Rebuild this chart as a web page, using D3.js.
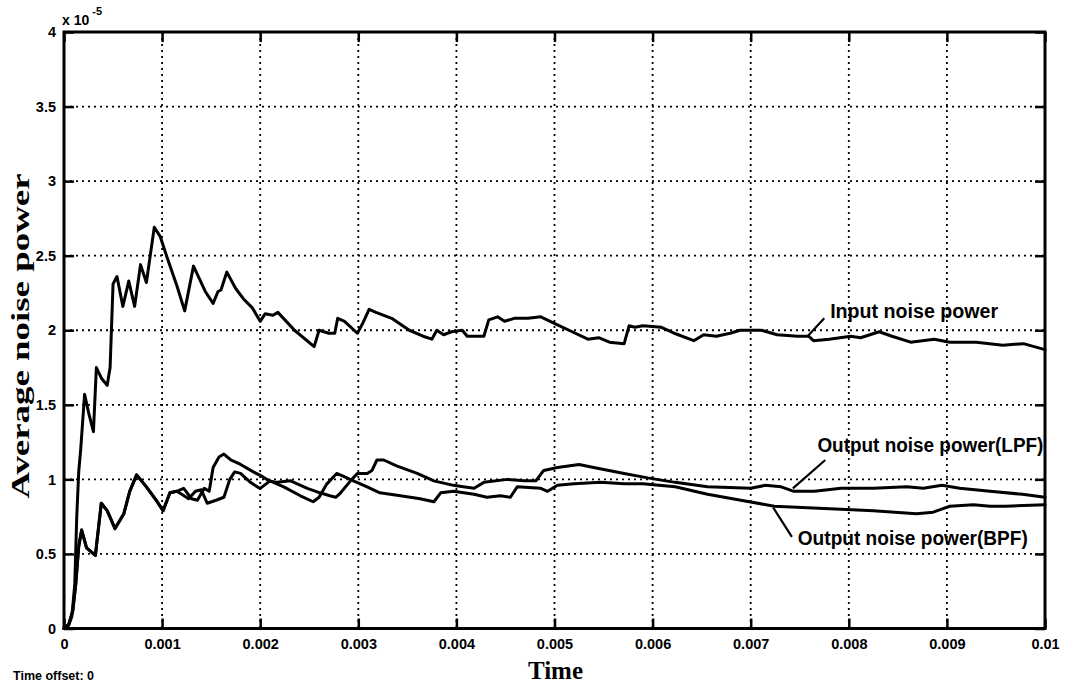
<!DOCTYPE html>
<html>
<head>
<meta charset="utf-8">
<script src="https://cdn.jsdelivr.net/npm/d3@7"></script>
<style>
  body { margin: 0; background: #fff; }
  svg { display: block; }
</style>
</head>
<body>
<svg id="chart" width="1069" height="688"></svg>
<script>
// Time in ms, power in units of 1e-5
const inputT = [0, 0.04, 0.08, 0.11, 0.13, 0.15, 0.17, 0.21, 0.25, 0.30, 0.33, 0.38, 0.44, 0.47, 0.50, 0.54, 0.60, 0.66, 0.72, 0.78, 0.84, 0.92, 0.98, 1.05, 1.15, 1.23, 1.32, 1.44, 1.52, 1.57, 1.60, 1.66, 1.75, 1.83, 1.92, 2.00, 2.05, 2.13, 2.18, 2.35, 2.55, 2.60, 2.70, 2.76, 2.79, 2.86, 2.99, 3.04, 3.11, 3.18, 3.34, 3.52, 3.66, 3.75, 3.80, 3.87, 3.95, 4.06, 4.11, 4.28, 4.33, 4.42, 4.49, 4.59, 4.73, 4.86, 5.02, 5.18, 5.34, 5.45, 5.56, 5.71, 5.76, 5.82, 5.90, 6.09, 6.22, 6.42, 6.52, 6.65, 6.79, 6.89, 7.11, 7.27, 7.48, 7.59, 7.64, 7.80, 8.02, 8.12, 8.31, 8.44, 8.63, 8.87, 9.03, 9.30, 9.57, 9.78, 10.0];
const inputV = [0, 0.01, 0.08, 0.30, 0.75, 1.05, 1.20, 1.57, 1.45, 1.32, 1.75, 1.68, 1.63, 1.75, 2.31, 2.36, 2.16, 2.33, 2.16, 2.44, 2.32, 2.69, 2.63, 2.49, 2.30, 2.13, 2.43, 2.26, 2.18, 2.26, 2.27, 2.39, 2.28, 2.21, 2.15, 2.06, 2.11, 2.10, 2.12, 2.00, 1.89, 2.00, 1.98, 1.98, 2.08, 2.06, 1.98, 2.04, 2.14, 2.12, 2.08, 2.00, 1.96, 1.94, 2.00, 1.97, 1.99, 2.00, 1.96, 1.96, 2.07, 2.09, 2.06, 2.08, 2.08, 2.09, 2.04, 1.99, 1.94, 1.95, 1.92, 1.91, 2.03, 2.02, 2.03, 2.02, 1.98, 1.93, 1.97, 1.96, 1.98, 2.00, 2.00, 1.97, 1.96, 1.96, 1.93, 1.94, 1.96, 1.95, 1.99, 1.96, 1.92, 1.94, 1.92, 1.92, 1.90, 1.91, 1.87];

const lpfT = [0, 0.05, 0.09, 0.12, 0.15, 0.18, 0.23, 0.32, 0.38, 0.44, 0.52, 0.61, 0.67, 0.74, 0.84, 0.95, 1.01, 1.08, 1.15, 1.22, 1.30, 1.36, 1.43, 1.48, 1.52, 1.58, 1.63, 1.70, 1.80, 1.93, 2.02, 2.09, 2.17, 2.31, 2.48, 2.61, 2.71, 2.77, 2.82, 2.92, 2.99, 3.09, 3.14, 3.19, 3.26, 3.39, 3.60, 3.77, 3.97, 4.07, 4.18, 4.28, 4.52, 4.69, 4.81, 4.89, 5.03, 5.25, 5.40, 5.71, 5.95, 6.23, 6.56, 7.00, 7.15, 7.31, 7.44, 7.65, 7.92, 8.25, 8.59, 8.76, 8.95, 9.13, 9.44, 9.77, 10.0];
const lpfV = [0, 0.03, 0.12, 0.30, 0.55, 0.66, 0.54, 0.49, 0.84, 0.79, 0.67, 0.77, 0.92, 1.03, 0.95, 0.85, 0.79, 0.91, 0.92, 0.94, 0.87, 0.86, 0.94, 0.92, 1.08, 1.15, 1.17, 1.13, 1.10, 1.05, 1.02, 0.99, 0.98, 0.99, 0.94, 0.91, 0.89, 0.88, 0.91, 0.99, 1.04, 1.04, 1.06, 1.13, 1.13, 1.09, 1.04, 0.99, 0.96, 0.95, 0.94, 0.98, 1.00, 0.99, 0.99, 1.06, 1.08, 1.10, 1.08, 1.04, 1.01, 0.98, 0.95, 0.94, 0.96, 0.95, 0.92, 0.92, 0.94, 0.94, 0.95, 0.94, 0.96, 0.94, 0.92, 0.90, 0.88];

const bpfT = [0, 0.05, 0.09, 0.12, 0.15, 0.18, 0.23, 0.32, 0.38, 0.44, 0.52, 0.61, 0.67, 0.74, 0.84, 0.95, 1.01, 1.08, 1.15, 1.20, 1.27, 1.34, 1.40, 1.46, 1.55, 1.63, 1.69, 1.74, 1.80, 1.90, 1.97, 2.00, 2.10, 2.24, 2.41, 2.54, 2.60, 2.68, 2.78, 2.85, 2.95, 3.09, 3.22, 3.43, 3.63, 3.77, 3.84, 3.97, 4.18, 4.31, 4.45, 4.55, 4.62, 4.86, 4.93, 5.03, 5.20, 5.47, 5.71, 5.90, 6.23, 6.56, 6.90, 7.24, 7.58, 7.92, 8.25, 8.69, 8.86, 9.03, 9.27, 9.44, 9.60, 10.0];
const bpfV = [0, 0.03, 0.12, 0.30, 0.55, 0.66, 0.54, 0.49, 0.84, 0.79, 0.67, 0.77, 0.92, 1.03, 0.95, 0.85, 0.79, 0.91, 0.92, 0.90, 0.87, 0.92, 0.93, 0.84, 0.86, 0.88, 1.00, 1.05, 1.04, 0.98, 0.95, 0.94, 0.99, 0.95, 0.89, 0.85, 0.88, 0.97, 1.04, 1.02, 0.99, 0.95, 0.91, 0.89, 0.87, 0.85, 0.91, 0.92, 0.90, 0.88, 0.89, 0.88, 0.95, 0.94, 0.92, 0.96, 0.97, 0.98, 0.97, 0.97, 0.95, 0.90, 0.86, 0.82, 0.81, 0.80, 0.79, 0.77, 0.78, 0.82, 0.83, 0.82, 0.82, 0.83];

const xTicks = [0, 1, 2, 3, 4, 5, 6, 7, 8, 9, 10];
const xTickLabels = ["0", "0.001", "0.002", "0.003", "0.004", "0.005", "0.006", "0.007", "0.008", "0.009", "0.01"];
const yTicks = [0, 0.5, 1, 1.5, 2, 2.5, 3, 3.5, 4];
const yTickLabels = ["0", "0.5", "1", "1.5", "2", "2.5", "3", "3.5", "4"];

const seriesNames = ["Input noise power", "Output noise power(LPF)", "Output noise power(BPF)"];

const svg = d3.select("#chart");
const plotLeft = 64, plotRight = 1045, plotTop = 32, plotBottom = 628.5;

const x = d3.scaleLinear().domain([0, 10]).range([plotLeft, plotRight]);
const y = d3.scaleLinear().domain([0, 4]).range([plotBottom, plotTop]);

const sansBold = "'Liberation Sans', Arial, sans-serif";
const serifBold = "'Liberation Serif', 'Times New Roman', serif";

// Dotted grid
const grid = svg.append("g").attr("stroke", "#000").attr("stroke-width", 1.8)
  .attr("stroke-dasharray", "2,4");
grid.selectAll("line.v").data(xTicks.slice(1, -1)).join("line").attr("class", "v")
  .attr("x1", d => x(d)).attr("x2", d => x(d)).attr("y1", plotTop).attr("y2", plotBottom);
grid.selectAll("line.h").data(yTicks.slice(1, -1)).join("line").attr("class", "h")
  .attr("x1", plotLeft).attr("x2", plotRight).attr("y1", d => y(d)).attr("y2", d => y(d));

// Axes with inward ticks
const fmtX = (d, i) => xTickLabels[i];
const fmtY = (d, i) => yTickLabels[i];
function styleAxis(g) {
  g.select(".domain").remove();
  g.selectAll(".tick line").attr("stroke", "#000").attr("stroke-width", 2.5);
  g.selectAll(".tick text").attr("fill", "#000")
    .attr("font-family", sansBold).attr("font-weight", "bold").attr("font-size", 14.5);
}
svg.append("g").attr("transform", `translate(0,${plotBottom})`)
  .call(d3.axisBottom(x).tickValues(xTicks).tickFormat(fmtX).tickSize(-10).tickPadding(10))
  .call(styleAxis);
svg.append("g").attr("transform", `translate(0,${plotTop})`)
  .call(d3.axisTop(x).tickValues(xTicks).tickFormat("").tickSize(-10))
  .call(styleAxis);
svg.append("g").attr("transform", `translate(${plotLeft},0)`)
  .call(d3.axisLeft(y).tickValues(yTicks).tickFormat(fmtY).tickSize(-10).tickPadding(8))
  .call(styleAxis);
svg.append("g").attr("transform", `translate(${plotRight},0)`)
  .call(d3.axisRight(y).tickValues(yTicks).tickFormat("").tickSize(-10))
  .call(styleAxis);

// Curves
const line = d3.line().x(d => x(d[0])).y(d => y(d[1]));
const curves = [
  d3.zip(inputT, inputV),
  d3.zip(lpfT, lpfV),
  d3.zip(bpfT, bpfV)
];
svg.append("g").selectAll("path").data(curves).join("path")
  .attr("d", line).attr("fill", "none").attr("stroke", "#000")
  .attr("stroke-width", 3).attr("stroke-linejoin", "round").attr("stroke-linecap", "round");

// Frame
svg.append("rect").attr("x", plotLeft).attr("y", plotTop)
  .attr("width", plotRight - plotLeft).attr("height", plotBottom - plotTop)
  .attr("fill", "none").attr("stroke", "#000").attr("stroke-width", 3);

// Annotations: leader line (from curve point to label) and label text
const notes = [
  { name: seriesNames[0], from: [7.58, 1.96], to: [7.75, 2.08], text: [7.81, 2.08], len: 168 },
  { name: seriesNames[1], from: [7.43, 0.94], to: [7.76, 1.13], text: [7.68, 1.185], len: 226 },
  { name: seriesNames[2], from: [7.23, 0.81], to: [7.42, 0.615], text: [7.48, 0.56], len: 230 }
];
const ann = svg.append("g");
ann.selectAll("line").data(notes).join("line")
  .attr("x1", d => x(d.from[0])).attr("y1", d => y(d.from[1]))
  .attr("x2", d => x(d.to[0])).attr("y2", d => y(d.to[1]))
  .attr("stroke", "#000").attr("stroke-width", 2.2);
ann.selectAll("text").data(notes).join("text")
  .attr("x", d => x(d.text[0])).attr("y", d => y(d.text[1]))
  .attr("font-family", sansBold).attr("font-weight", "bold").attr("font-size", 20)
  .attr("textLength", d => d.len).attr("lengthAdjust", "spacingAndGlyphs")
  .text(d => d.name);

// Exponent label
const expo = svg.append("text").attr("x", plotLeft - 2).attr("y", 25)
  .attr("font-family", sansBold).attr("font-weight", "bold").attr("font-size", 14);
expo.append("tspan").text("x 10");
expo.append("tspan").attr("dy", -10).attr("dx", 3).attr("font-size", 11).text("-5");

// Axis titles
svg.append("text").attr("x", (plotLeft + plotRight) / 2 + 1).attr("y", 679)
  .attr("text-anchor", "middle").attr("font-family", serifBold).attr("font-weight", "bold")
  .attr("font-size", 25).text("Time");
svg.append("text").attr("transform", "translate(29,336) rotate(-90)")
  .attr("text-anchor", "middle").attr("font-family", serifBold).attr("font-weight", "bold")
  .attr("font-size", 26).attr("textLength", 325).attr("lengthAdjust", "spacingAndGlyphs")
  .text("Average noise power");

svg.append("text").attr("x", 13).attr("y", 680)
  .attr("font-family", sansBold).attr("font-weight", "bold").attr("font-size", 12.5)
  .text("Time offset: 0");
</script>
</body>
</html>
